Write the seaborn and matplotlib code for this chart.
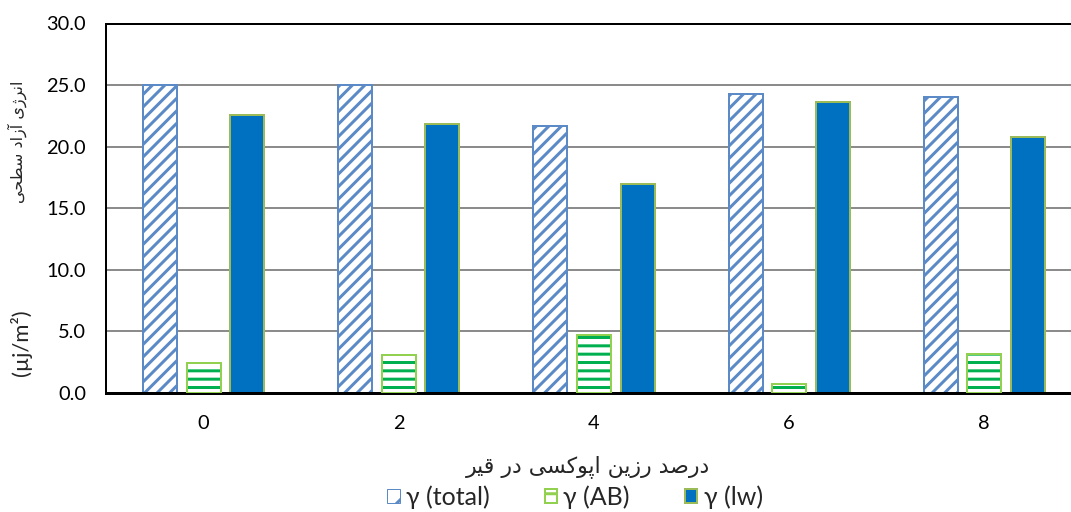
import matplotlib
matplotlib.use("Agg")
import matplotlib.pyplot as plt
from matplotlib.patches import Patch, Rectangle
import pandas as pd
import seaborn as sns

# data
percents = ["0", "2", "4", "6", "8"]
series = ["γ (total)", "γ (AB)", "γ (lw)"]
gamma_total = [25.0, 25.0, 21.7, 24.3, 24.0]
gamma_ab = [2.4, 3.1, 4.7, 0.7, 3.2]
gamma_lw = [22.6, 21.8, 17.0, 23.6, 20.8]
y_ticks = [0, 5, 10, 15, 20, 25, 30]

x_title = "درصد رزین اپوکسی در قیر"
y_title = "انرژی آزاد سطحی"
y_unit = "(µj/m²)"

# minimal Persian shaping (matplotlib has no complex text layout)
FORMS = {
    "ا": (0xFE8D, 0xFE8E), "آ": (0xFE81, 0xFE82), "د": (0xFEA9, 0xFEAA),
    "ر": (0xFEAD, 0xFEAE), "ز": (0xFEAF, 0xFEB0), "ژ": (0xFB8A, 0xFB8B),
    "و": (0xFEED, 0xFEEE),
    "ص": (0xFEB9, 0xFEBA, 0xFEBB, 0xFEBC), "ن": (0xFEE5, 0xFEE6, 0xFEE7, 0xFEE8),
    "ی": (0xFBFC, 0xFBFD, 0xFBFE, 0xFBFF), "پ": (0xFB56, 0xFB57, 0xFB58, 0xFB59),
    "ک": (0xFB8E, 0xFB8F, 0xFB90, 0xFB91), "س": (0xFEB1, 0xFEB2, 0xFEB3, 0xFEB4),
    "ق": (0xFED5, 0xFED6, 0xFED7, 0xFED8), "ط": (0xFEC1, 0xFEC2, 0xFEC3, 0xFEC4),
    "ح": (0xFEA1, 0xFEA2, 0xFEA3, 0xFEA4),
}


def shape(text):
    out = []
    for i, ch in enumerate(text):
        if ch not in FORMS:
            out.append(ch)
            continue
        prev = text[i - 1] if i > 0 else ""
        nxt = text[i + 1] if i + 1 < len(text) else ""
        f = FORMS[ch]
        jp = prev in FORMS and len(FORMS[prev]) == 4
        jn = nxt in FORMS and len(f) == 4
        if jp and jn:
            c = f[3]
        elif jp:
            c = f[1]
        elif jn:
            c = f[2]
        else:
            c = f[0]
        out.append(chr(c))
    return "".join(out)[::-1]


DPI = 150
W, H = 1071, 512
PX = 72 / DPI  # one pixel in points

sns.set_style("white")
plt.rcParams["font.family"] = ["Lato", "DejaVu Sans"]
plt.rcParams["hatch.linewidth"] = 3.0 * PX

df = pd.DataFrame({
    "pct": percents * 3,
    "series": [s for s in series for _ in percents],
    "value": gamma_total + gamma_ab + gamma_lw,
})

fig = plt.figure(figsize=(W / DPI, H / DPI), dpi=DPI)
ax = fig.add_axes([106 / W, 1 - 393 / H, (W - 106) / W, (393 - 23.5) / H])

sns.barplot(data=df, x="pct", y="value", hue="series", hue_order=series,
            order=percents, width=0.67, gap=0.22, ax=ax, legend=False)

blue_edge = "#5B8AC6"
green_line = "#00B050"
green_edge = "#92D050"
lw_fill = "#0070C0"
lw_edge = "#9BBB59"

c_total, c_ab, c_lw = ax.containers[:3]
for p in c_total:
    p.set_facecolor("white")
    p.set_edgecolor(blue_edge)
    p.set_hatch("////")
    p.set_linewidth(2 * PX)
for p in c_ab:
    p.set_facecolor("white")
    p.set_edgecolor(green_line)
    p.set_hatch("---")
    p.set_linewidth(0)
    ax.add_patch(Rectangle(p.get_xy(), p.get_width(), p.get_height(),
                           fill=False, edgecolor=green_edge, lw=2 * PX, zorder=3))
for p in c_lw:
    p.set_facecolor(lw_fill)
    p.set_edgecolor(lw_edge)
    p.set_linewidth(2 * PX)

ax.set_xlim(-0.5, (W - 203) / 195.3)
ax.set_ylim(0, 30)
ax.set_yticks(y_ticks)
ax.set_yticklabels([f"{v:.1f}" for v in y_ticks])
ax.yaxis.grid(True, color="#8C8C8C", lw=2 * PX)
ax.set_axisbelow(True)
ax.tick_params(axis="both", length=0, labelsize=20 * PX, colors="black")
ax.tick_params(axis="y", pad=20 * PX)
ax.tick_params(axis="x", pad=22 * PX)
ax.set_xlabel("")
ax.set_ylabel("")
for side in ["top", "left"]:
    ax.spines[side].set_color("black")
    ax.spines[side].set_linewidth(2 * PX)
ax.spines["bottom"].set_color("black")
ax.spines["bottom"].set_linewidth(3 * PX)
ax.spines["right"].set_visible(False)

fig.text(588 / W, 1 - 467 / H, shape(x_title), ha="center", va="center",
         fontsize=22 * PX, family=["DejaVu Sans"])
fig.text(21 / W, 1 - 343 / H, y_unit, ha="center", va="center",
         rotation=90, fontsize=22 * PX)
fig.text(17 / W, 1 - 142 / H, shape(y_title), ha="center", va="center",
         rotation=90, fontsize=16 * PX, family=["DejaVu Sans"])

handles = [
    Patch(facecolor="white", edgecolor=blue_edge, hatch="//", lw=1 * PX),
    Patch(facecolor="white", edgecolor=green_edge, hatch="--", lw=2 * PX),
    Patch(facecolor=lw_fill, edgecolor=lw_edge, lw=2 * PX),
]
fig.legend(handles, series, loc="center", bbox_to_anchor=(575 / W, 1 - 497 / H),
           ncol=3, frameon=False, fontsize=25 * PX, handlelength=0.5,
           handleheight=0.5, handletextpad=0.25, columnspacing=2.2,
           borderpad=0, borderaxespad=0)

fig.savefig("out.png", dpi=DPI)
